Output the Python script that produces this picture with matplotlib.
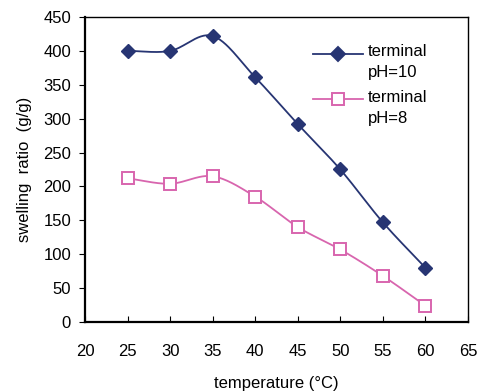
# Swelling ratio vs temperature for the two terminal pH values

import matplotlib
matplotlib.use("Agg")
import matplotlib.pyplot as plt
import numpy as np

plt.rcParams["font.family"] = ["Liberation Sans", "DejaVu Sans"]

temperature = [25, 30, 35, 40, 45, 50, 55, 60]
ph10 = [400, 400, 422, 361, 292, 225, 147, 80]
ph8 = [212, 204, 215, 185, 140, 107, 68, 24]

navy = "#273573"
pink = "#d865ae"


def smooth(x, y, n=30):
    # Catmull-Rom curve through the points, like a spreadsheet "smoothed line"
    x = np.asarray(x, float)
    y = np.asarray(y, float)
    px = np.concatenate([[2 * x[0] - x[1]], x, [2 * x[-1] - x[-2]]])
    py = np.concatenate([[2 * y[0] - y[1]], y, [2 * y[-1] - y[-2]]])
    xs, ys = [], []
    t = np.linspace(0, 1, n)
    for i in range(1, len(px) - 2):
        for p, out in ((px, xs), (py, ys)):
            p0, p1, p2, p3 = p[i - 1], p[i], p[i + 1], p[i + 2]
            out.extend(0.5 * (2 * p1 + (-p0 + p2) * t
                              + (2 * p0 - 5 * p1 + 4 * p2 - p3) * t ** 2
                              + (-p0 + 3 * p1 - 3 * p2 + p3) * t ** 3))
    return xs, ys


fig = plt.figure(figsize=(4.8, 3.91), dpi=100)
ax = fig.add_axes([0.177, 0.1765, 0.798, 0.78])

sx, sy = smooth(temperature, ph10)
ax.plot(sx, sy, color=navy, lw=1.3)
ax.plot(temperature, ph10, ls="none", marker="D", ms=7.5, color=navy)

sx, sy = smooth(temperature, ph8)
ax.plot(sx, sy, color=pink, lw=1.3)
ax.plot(temperature, ph8, ls="none", marker="s", ms=8.5, mfc="white",
        mec=pink, mew=1.4)

ax.set_xlim(20, 65)
ax.set_ylim(0, 450)
ax.set_xticks(range(20, 70, 5))
ax.set_yticks(range(0, 500, 50))
ax.tick_params(axis="x", direction="in", length=4, pad=16, labelsize=12)
ax.tick_params(axis="y", direction="out", length=4, pad=6, labelsize=12)
ax.spines["left"].set_linewidth(1.6)
ax.spines["bottom"].set_linewidth(1.6)
ax.spines["top"].set_linewidth(1.0)
ax.spines["right"].set_linewidth(1.0)

ax.set_xlabel("temperature (°C)", fontsize=12, labelpad=12)
ax.set_ylabel("swelling  ratio  (g/g)", fontsize=12, labelpad=8)

# legend drawn by hand so the marker sits next to the first text line
for yy, col, mk, face, txt in [(0.88, navy, "D", navy, "terminal\npH=10"),
                               (0.73, pink, "s", "white", "terminal\npH=8")]:
    ax.plot([0.595, 0.725], [yy, yy], color=col, lw=1.3, transform=ax.transAxes)
    ax.plot([0.66], [yy], marker=mk, ms=7.5 if mk == "D" else 8, mfc=face,
            mec=col, mew=1.4, color=col, transform=ax.transAxes)
    ax.text(0.738, yy + 0.03, txt, transform=ax.transAxes, fontsize=12,
            va="top", ha="left", linespacing=1.45)

fig.savefig("out.png", dpi=100)
